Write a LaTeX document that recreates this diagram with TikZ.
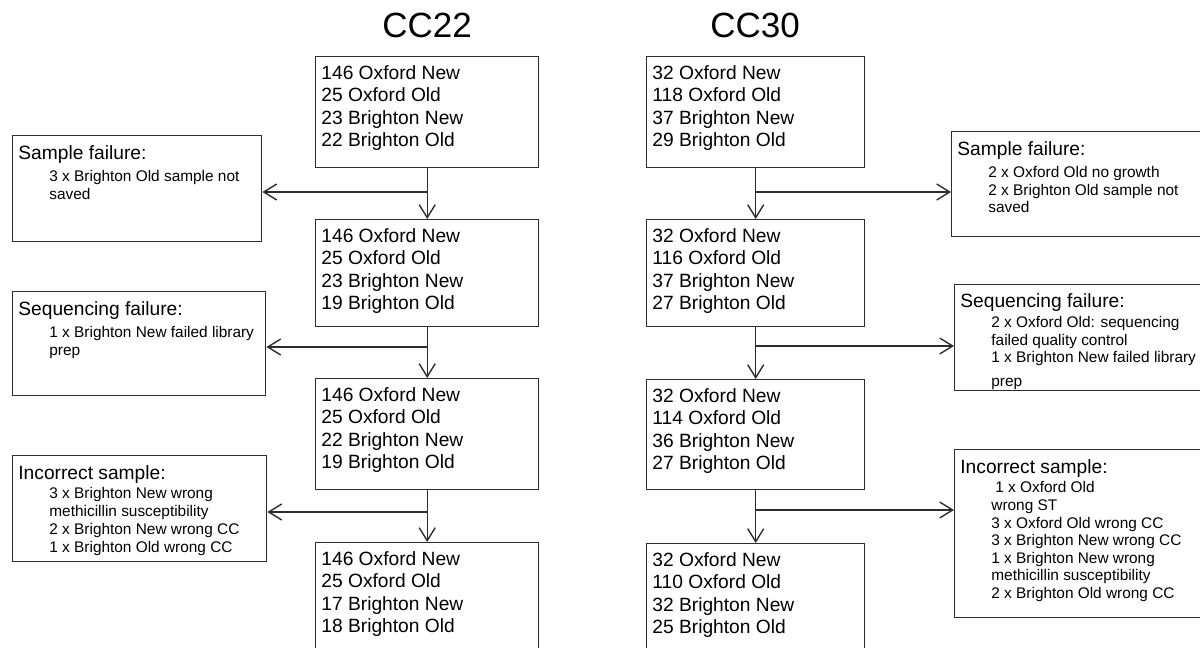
\documentclass[tikz,border=0pt]{standalone}
\usepackage{fontspec}
\setmainfont{Liberation Sans}
\usetikzlibrary{arrows.meta}
\definecolor{lc}{RGB}{45,45,45}
\tikzset{
  box/.style={draw=lc, line width=0.7pt, inner sep=0pt, anchor=north west},
  arr/.style={draw=lc, line width=0.7pt, -{Straight Barb[length=6.5pt,width=8pt]}},
  ln/.style={draw=lc, line width=0.7pt},
  mtxt/.style={anchor=base west, inner sep=0pt, font=\fontsize{9.6}{11}\selectfont},
  stxt/.style={anchor=base west, inner sep=0pt, font=\fontsize{7.7}{9}\selectfont},
  ttl/.style={anchor=base, inner sep=0pt, font=\fontsize{17.5}{20}\selectfont},
}
\newcommand{\bx}[5]{\node[box, minimum width={(#4-#2)*0.5pt}, minimum height={(#5-#3)*0.5pt}] (#1) at (#2,#3) {};}
\newcommand{\putlines}[6]{\foreach \t [count=\i] in {#6} {\node[#1] (#2-\i) at (#3,{#4+(\i-1)*#5}) {\t};}}
\begin{document}
\begin{tikzpicture}[x=0.5pt,y=-0.5pt]
\useasboundingbox (0,0) rectangle (1200,648);
\clip (0,0) rectangle (1200,648);
% titles
\node[ttl] (t22) at (427,38) {CC22};
\node[ttl] (t30) at (755,38) {CC30};
% CC22 column
\bx{a1}{315}{56}{538}{167}
\bx{a2}{315}{219}{538}{326}
\bx{a3}{315}{378}{538}{489}
\bx{a4}{315}{542}{538}{656}
\putlines{mtxt}{a1t}{321}{79}{22.6}{146 Oxford New,25 Oxford Old,23 Brighton New,22 Brighton Old}
\putlines{mtxt}{a2t}{321}{242}{22.6}{146 Oxford New,25 Oxford Old,23 Brighton New,19 Brighton Old}
\putlines{mtxt}{a3t}{321}{401}{22.6}{146 Oxford New,25 Oxford Old,22 Brighton New,19 Brighton Old}
\putlines{mtxt}{a4t}{321}{565}{22.6}{146 Oxford New,25 Oxford Old,17 Brighton New,18 Brighton Old}
% CC30 column
\bx{b1}{646}{56}{864}{167}
\bx{b2}{646}{219}{864}{326}
\bx{b3}{646}{379}{864}{489}
\bx{b4}{646}{543}{864}{656}
\putlines{mtxt}{b1t}{652}{79}{22.6}{32 Oxford New,118 Oxford Old,37 Brighton New,29 Brighton Old}
\putlines{mtxt}{b2t}{652}{242}{22.6}{32 Oxford New,116 Oxford Old,37 Brighton New,27 Brighton Old}
\putlines{mtxt}{b3t}{652}{402}{22.6}{32 Oxford New,114 Oxford Old,36 Brighton New,27 Brighton Old}
\putlines{mtxt}{b4t}{652}{566}{22.6}{32 Oxford New,110 Oxford Old,32 Brighton New,25 Brighton Old}
% left side boxes
\bx{ls}{12}{135}{261}{241}
\node[mtxt] (lsh) at (18,159) {Sample failure:};
\putlines{stxt}{lst}{49}{181.5}{18}{3 x Brighton Old sample not,saved}
\bx{lq}{12}{291}{265}{395}
\node[mtxt] (lqh) at (18,315) {Sequencing failure:};
\putlines{stxt}{lqt}{49}{337.5}{18}{1 x Brighton New failed library,prep}
\bx{li}{12}{455}{266}{561}
\node[mtxt] (lih) at (18,479) {Incorrect sample:};
\putlines{stxt}{lit}{49}{498.5}{17.9}{3 x Brighton New wrong,methicillin susceptibility,2 x Brighton New wrong CC,1 x Brighton Old wrong CC}
% right side boxes
\bx{rs}{951}{131}{1210}{236}
\node[mtxt] (rsh) at (957,155) {Sample failure:};
\putlines{stxt}{rst}{988}{177.5}{17.5}{2 x Oxford Old no growth,2 x Brighton Old sample not,saved}
\bx{rq}{954}{284}{1210}{390}
\node[mtxt] (rqh) at (960,307) {Sequencing failure:};
\putlines{stxt}{rqt}{991}{327.5}{17.5}{2 x Oxford Old: sequencing,failed quality control,1 x Brighton New failed library}
\node[stxt] (rqp) at (991,386) {prep};
\bx{rn}{954}{449}{1210}{617}
\node[mtxt] (rnh) at (960,473) {Incorrect sample:};
\node[stxt] (rn1) at (995,492.5) {1 x Oxford Old};
\putlines{stxt}{rnt}{991}{510.5}{17.6}{wrong ST,3 x Oxford Old wrong CC,3 x Brighton New wrong CC,1 x Brighton New wrong,methicillin susceptibility,2 x Brighton Old wrong CC}
% CC22 connectors
\draw[arr] (a1.south) -- (a2.north);
\coordinate (ja1) at (a1.south |- 0,192);
\draw[arr] (ja1) -- (ja1 -| ls.east);
\draw[arr] (a2.south) -- (a3.north);
\coordinate (ja2) at (a2.south |- 0,347);
\draw[arr] (ja2) -- (ja2 -| lq.east);
\draw[arr] (a3.south) -- (a4.north);
\coordinate (ja3) at (a3.south |- 0,512);
\draw[arr] (ja3) -- (ja3 -| li.east);
% CC30 connectors
\draw[arr] (b1.south) -- (b2.north);
\coordinate (jb1) at (b1.south |- 0,192);
\draw[arr] (jb1) -- (jb1 -| rs.west);
\draw[arr] (b2.south) -- (b3.north);
\coordinate (jb2) at (b2.south |- 0,346);
\draw[arr] (jb2) -- (jb2 -| rq.west);
\draw[arr] (b3.south) -- (b4.north);
\coordinate (jb3) at (b3.south |- 0,510);
\draw[arr] (jb3) -- (jb3 -| rn.west);
\end{tikzpicture}
\end{document}
